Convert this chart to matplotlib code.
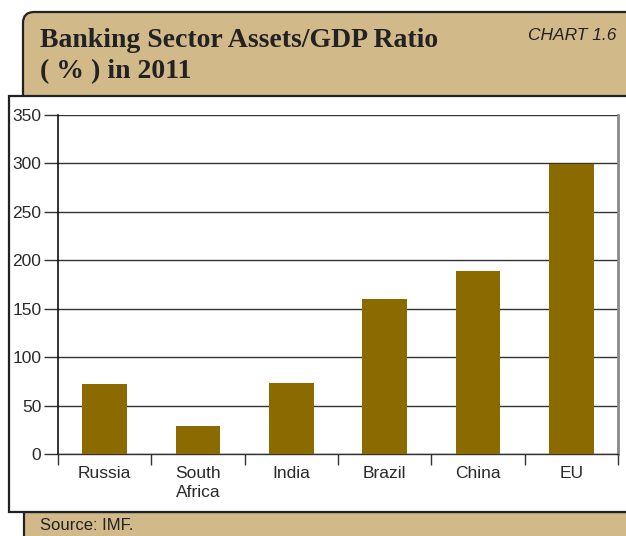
import matplotlib
matplotlib.use("Agg")
import matplotlib.pyplot as plt
from matplotlib.patches import FancyBboxPatch, Rectangle
from matplotlib.transforms import IdentityTransform
from matplotlib.ticker import FixedLocator

categories = ["Russia", "South\nAfrica", "India", "Brazil", "China", "EU"]
values = [72, 29, 73, 160, 189, 299]
yticks = [0, 50, 100, 150, 200, 250, 300, 350]

W, H = 626, 536
fig = plt.figure(figsize=(W / 100, H / 100), dpi=100)
fig.patch.set_facecolor("white")

tan = "#D2B98A"
edge = "#222222"
ident = IdentityTransform()

def py(y):
    return H - y

# header box (rounded top-left)
hdr = FancyBboxPatch((23, py(125)), 640, 113, boxstyle="round,pad=0,rounding_size=11",
                     transform=ident, facecolor=tan, edgecolor=edge, linewidth=1.6, zorder=1)
fig.patches.append(hdr)
# footer box
ftr = Rectangle((24, py(545)), 640, 33, transform=ident, facecolor=tan,
                edgecolor=edge, linewidth=1.6, zorder=1)
fig.patches.append(ftr)
# white panel
pnl = Rectangle((8.5, py(512)), 640, 416, transform=ident, facecolor="white",
                edgecolor=edge, linewidth=1.6, zorder=2)
fig.patches.append(pnl)

ax = fig.add_axes([58 / W, 1 - 454 / H, (618 - 58) / W, (454 - 115) / H])
ax.set_zorder(5)
ax.set_facecolor("white")

x = list(range(len(categories)))
ax.bar(x, values, width=0.48, color="#8B6A00", zorder=3)
ax.set_xlim(-0.5, len(categories) - 0.5)
ax.set_ylim(0, 350)
ax.set_yticks(yticks)
ax.yaxis.grid(True, color="#333333", linewidth=1.0, zorder=0)
ax.set_axisbelow(True)

ax.set_xticks(x)
ax.set_xticklabels(categories, fontsize=12.5, color="#2a2a2a", family="Liberation Sans",
                   linespacing=1.3, va="top")
ax.xaxis.set_minor_locator(FixedLocator([i - 0.5 for i in range(len(categories) + 1)]))
ax.tick_params(axis="x", which="major", length=0, pad=9)
ax.tick_params(axis="x", which="minor", length=8, width=1, color="#333333", direction="out")
ax.tick_params(axis="y", length=10, width=1, color="#333333", direction="out", pad=2,
               labelsize=12.5, labelcolor="#2a2a2a")
for lab in ax.get_yticklabels():
    lab.set_family("Liberation Sans")

ax.spines["left"].set_color("#111111")
ax.spines["left"].set_linewidth(1.2)
ax.spines["bottom"].set_color("#333333")
ax.spines["bottom"].set_linewidth(1.0)
ax.spines["right"].set_color("#8a8a8a")
ax.spines["right"].set_linewidth(2.0)
ax.spines["top"].set_visible(False)

# titles
fig.text(40 / W, 1 - 47 / H, "Banking Sector Assets/GDP Ratio", fontsize=20, fontweight="bold",
         family="Liberation Serif", color="#222222", va="baseline", ha="left", zorder=10)
fig.text(40 / W, 1 - 78 / H, "( % ) in 2011", fontsize=20, fontweight="bold",
         family="Liberation Serif", color="#222222", va="baseline", ha="left", zorder=10)
fig.text(616 / W, 1 - 40 / H, "CHART 1.6", fontsize=12.5, style="italic",
         family="Liberation Sans", color="#222222", va="baseline", ha="right", zorder=10)
fig.text(40 / W, 1 - 530 / H, "Source: IMF.", fontsize=12, family="Liberation Sans",
         color="#222222", va="baseline", ha="left", zorder=10)

fig.savefig("out.png", dpi=100, facecolor="white")
